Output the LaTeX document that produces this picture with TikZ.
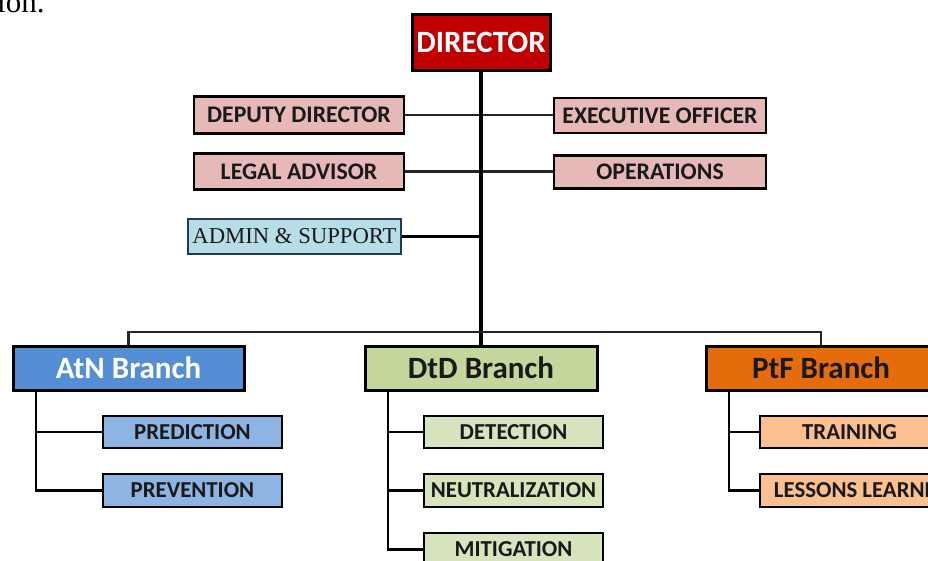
\documentclass[tikz,border=0pt]{standalone}
\usepackage{fontspec}
\setmainfont{Carlito}
\newfontfamily\serifF{Liberation Serif}
\definecolor{dirred}{HTML}{C00000}
\definecolor{pinkbox}{HTML}{E6B9B8}
\definecolor{adminfill}{HTML}{B7DEE8}
\definecolor{adminline}{HTML}{1F3B5C}
\definecolor{atnfill}{HTML}{558ED5}
\definecolor{atnsub}{HTML}{8DB4E2}
\definecolor{dtdfill}{HTML}{C3D69B}
\definecolor{dtdsub}{HTML}{D7E4BD}
\definecolor{ptffill}{HTML}{E46C0A}
\definecolor{ptfsub}{HTML}{FAC090}
\tikzset{
  box/.style={draw=black, line width=2.6pt, inner sep=0pt, text=black!90,
    font=\bfseries\fontsize{22.8}{24}\selectfont},
  pinkb/.style={box, fill=pinkbox, font=\bfseries\fontsize{23.8}{25}\selectfont},
  bigbox/.style={box, line width=3pt, font=\bfseries\fontsize{31}{33}\selectfont},
  conn/.style={draw=black!85, line width=2.4pt},
  trunk/.style={draw=black, line width=3.2pt}
}
\begin{document}
\begin{tikzpicture}[x=1pt,y=-1pt]
\useasboundingbox (0,0) rectangle (928,561);
\clip (0,0) rectangle (928,561);
\fill[white] (0,0) rectangle (928,561);
% caption fragment
\node[anchor=base west, inner sep=0pt, font=\serifF\fontsize{31}{33}\selectfont] (cap) at (-3,12.5) {ion.};
% top
\node[bigbox, fill=dirred, text=white, minimum width=138pt, minimum height=56pt] (dir) at (481,42.5) {DIRECTOR};
\node[pinkb, minimum width=210pt, minimum height=37pt] (dep) at (299,115) {DEPUTY DIRECTOR};
\node[pinkb, minimum width=210pt, minimum height=36pt] (leg) at (299,171.5) {LEGAL ADVISOR};
\node[box, draw=adminline, fill=adminfill, font=\serifF\fontsize{22.7}{24}\selectfont, minimum width=213pt, minimum height=35pt] (adm) at (294.5,236.5) {ADMIN \& SUPPORT};
\node[pinkb, minimum width=212pt, minimum height=35pt] (exe) at (660,115.5) {EXECUTIVE OFFICER};
\node[pinkb, minimum width=212pt, minimum height=33pt] (ops) at (660,172) {OPERATIONS};
% branches
\node[bigbox, fill=atnfill, text=white, minimum width=231pt, minimum height=44pt] (atn) at (128.5,368) {AtN Branch};
\node[bigbox, fill=dtdfill, minimum width=232pt, minimum height=44pt] (dtd) at (481,368) {DtD Branch};
\node[bigbox, fill=ptffill, minimum width=230pt, minimum height=44pt] (ptf) at (821,368) {PtF Branch};
% subs
\node[box, fill=atnsub, minimum width=179pt, minimum height=32pt] (pred) at (192.5,432) {PREDICTION};
\node[box, fill=atnsub, minimum width=179pt, minimum height=33pt] (prev) at (192.5,490.5) {PREVENTION};
\node[box, fill=dtdsub, minimum width=179pt, minimum height=32pt] (det) at (513.5,432) {DETECTION};
\node[box, fill=dtdsub, minimum width=179pt, minimum height=33pt] (neu) at (513.5,490.5) {NEUTRALIZATION};
\node[box, fill=dtdsub, minimum width=179pt, minimum height=33pt] (mit) at (513.5,549.5) {MITIGATION};
\node[box, fill=ptfsub, minimum width=179pt, minimum height=32pt] (tra) at (849.5,432) {TRAINING};
\node[box, fill=ptfsub, minimum width=204pt, minimum height=33pt] (les) at (862,490.5) {LESSONS LEARNED};
% connectors top
\coordinate (bus) at (481,332);
\draw[conn] (dep.east) -- (dep.east -| exe.west);
\draw[conn] (leg.east) -- (leg.east -| ops.west);
\draw[conn, draw=black] (adm.east) -- (adm.east -| dir.south);
\draw[trunk] (dir.south) -- (dtd.north);
\draw[conn] (atn.north) |- (bus) -| (ptf.north);
% sub trunks
\coordinate (atnL) at (36,390);
\coordinate (dtdL) at (388,390);
\coordinate (ptfL) at (729,390);
\draw[conn, draw=black] (atnL) |- (prev.west);
\draw[conn, draw=black] (atnL |- pred.west) -- (pred.west);
\draw[conn, draw=black] (dtdL) |- (mit.west);
\draw[conn, draw=black] (dtdL |- det.west) -- (det.west);
\draw[conn, draw=black] (dtdL |- neu.west) -- (neu.west);
\draw[conn, draw=black] (ptfL) |- (les.west);
\draw[conn, draw=black] (ptfL |- tra.west) -- (tra.west);
\end{tikzpicture}
\end{document}
